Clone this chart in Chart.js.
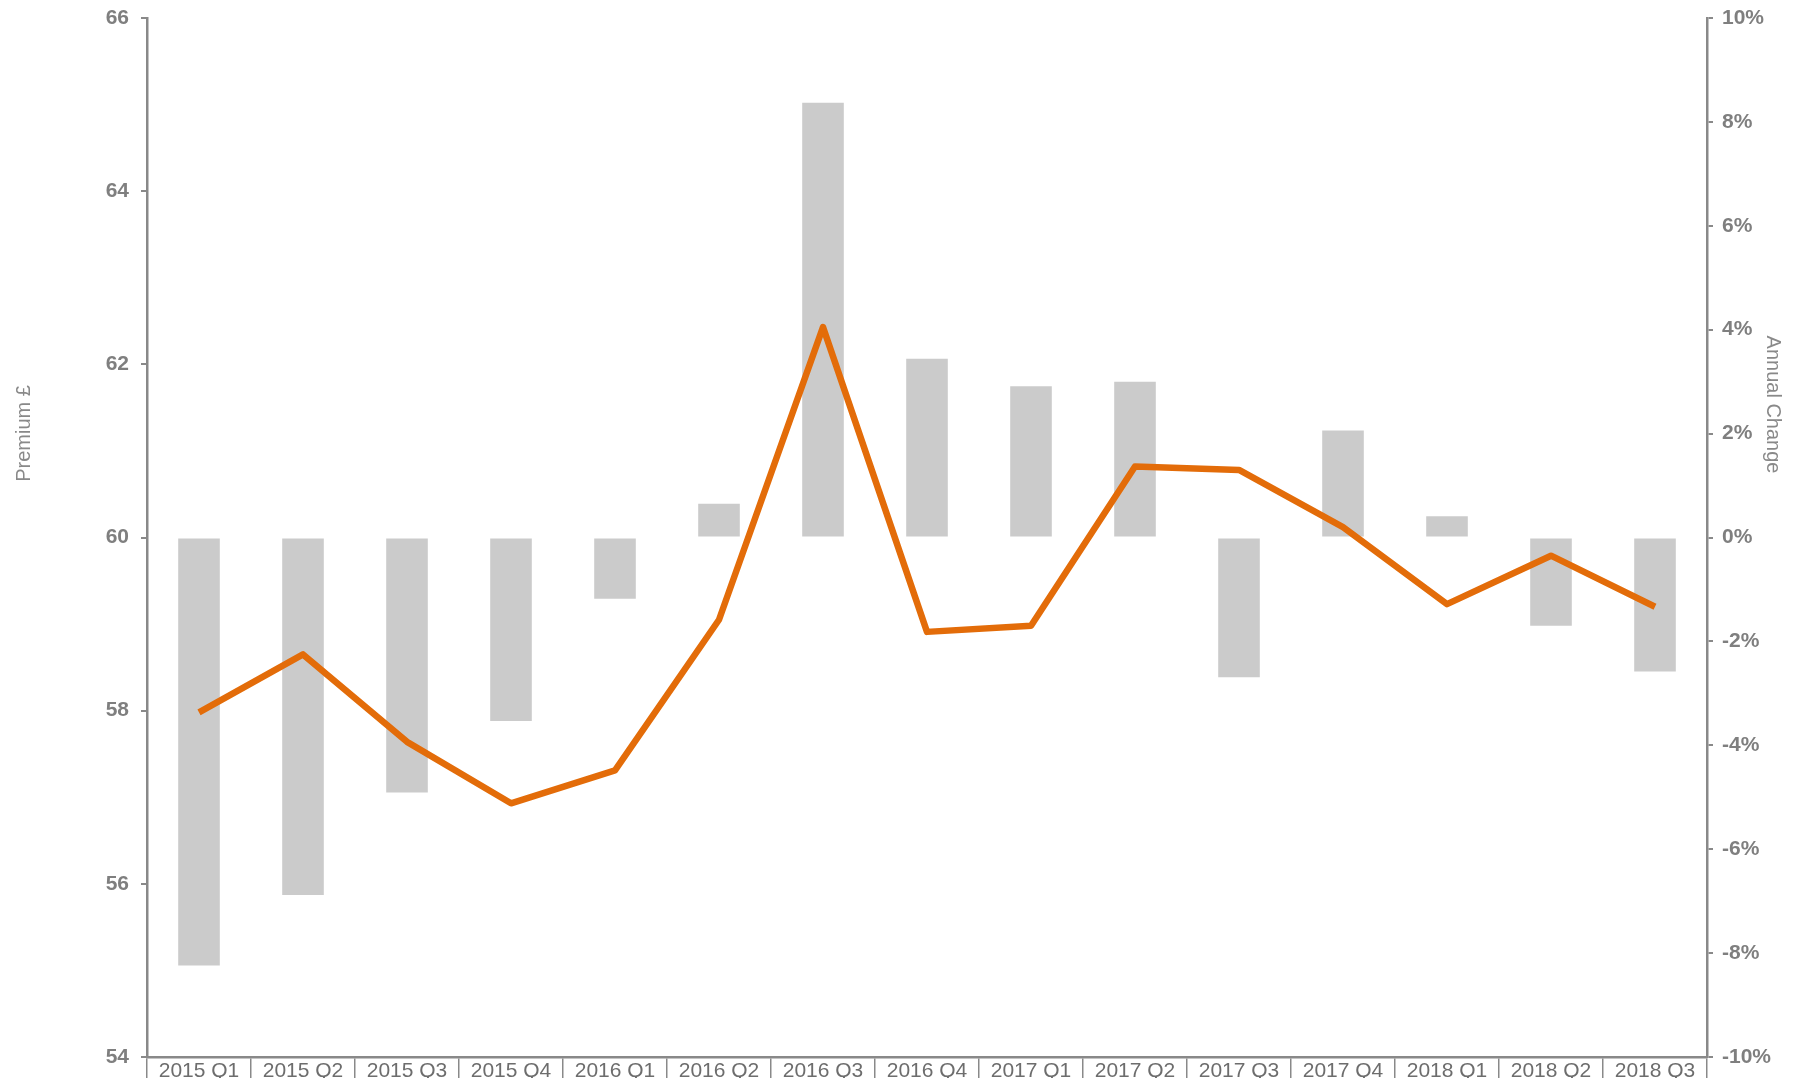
<!DOCTYPE html>
<html>
<head>
<meta charset="utf-8">
<script src="https://cdn.jsdelivr.net/npm/chart.js@4.4.1/dist/chart.umd.min.js"></script>
<style>
  html, body { margin: 0; padding: 0; background: #ffffff; overflow: hidden; }
  #wrap { position: absolute; left: 0; top: 0; width: 1800px; height: 1100px; }
</style>
</head>
<body>
<div id="wrap"><canvas id="c" width="1800" height="1100"></canvas></div>
<script>
const categories = ["2015 Q1","2015 Q2","2015 Q3","2015 Q4","2016 Q1","2016 Q2","2016 Q3","2016 Q4","2017 Q1","2017 Q2","2017 Q3","2017 Q4","2018 Q1","2018 Q2","2018 Q3"];
const premium = [57.98, 58.65, 57.64, 56.93, 57.31, 59.05, 62.43, 58.91, 58.98, 60.82, 60.78, 60.12, 59.23, 59.79, 59.20];
const annualChange = [-8.24, -6.88, -4.91, -3.53, -1.18, 0.65, 8.37, 3.44, 2.91, 3.00, -2.69, 2.06, 0.41, -1.70, -2.58];
const leftTitle = "Premium £";
const rightTitle = "Annual Change";

const axisGrey = '#898989';
const tickGrey = '#7f7f7f';
const fontFam = '"Liberation Sans", Arial, sans-serif';

const titlesPlugin = {
  id: 'axisTitles',
  afterDraw(chart) {
    const ctx = chart.ctx;
    const area = chart.chartArea;
    ctx.save();
    ctx.font = '20px ' + fontFam;
    ctx.fillStyle = axisGrey;
    ctx.textAlign = 'center';
    ctx.textBaseline = 'middle';
    const cy = (area.top + area.bottom) / 2;
    ctx.save();
    ctx.translate(24, cy - 104);
    ctx.rotate(-Math.PI / 2);
    ctx.fillText(leftTitle, 0, 0);
    ctx.restore();
    ctx.save();
    ctx.translate(chart.width - 27, cy - 133);
    ctx.rotate(Math.PI / 2);
    ctx.fillText(rightTitle, 0, 0);
    ctx.restore();
    ctx.restore();
  }
};

new Chart(document.getElementById('c'), {
  data: {
    labels: categories,
    datasets: [
      {
        type: 'line',
        label: leftTitle,
        data: premium,
        yAxisID: 'y',
        borderColor: '#e36c09',
        borderWidth: 6.5,
        pointRadius: 0,
        tension: 0,
        borderCapStyle: 'butt',
        borderJoinStyle: 'round',
        fill: false,
        order: 0
      },
      {
        type: 'bar',
        label: rightTitle,
        data: annualChange,
        yAxisID: 'y1',
        backgroundColor: '#cbcbcb',
        borderWidth: 0,
        barPercentage: 0.4,
        categoryPercentage: 1.0,
        order: 1
      }
    ]
  },
  options: {
    responsive: false,
    animation: false,
    devicePixelRatio: 1,
    layout: { padding: { top: 18, left: 0, right: 0, bottom: 0 } },
    plugins: { legend: { display: false }, tooltip: { enabled: false } },
    scales: {
      x: {
        type: 'category',
        offset: true,
        grid: { offset: true, drawOnChartArea: false, drawTicks: true, tickLength: 44, color: axisGrey, lineWidth: 1.5 },
        border: { display: true, color: axisGrey, width: 2.5 },
        ticks: {
          padding: -42,
          color: '#6d6d6d',
          font: { family: fontFam, size: 21 },
          maxRotation: 0, minRotation: 0, autoSkip: false
        },
        afterFit(scale) { scale.height = 43; scale.paddingLeft = 0; scale.paddingRight = 0; }
      },
      y: {
        position: 'left',
        min: 54, max: 66,
        ticks: {
          stepSize: 2, padding: 12, color: tickGrey,
          font: { family: fontFam, size: 21, weight: 'bold' }
        },
        grid: { drawOnChartArea: false, drawTicks: true, tickLength: 6, color: axisGrey, lineWidth: 2 },
        border: { display: true, color: axisGrey, width: 2.5 },
        afterFit(scale) { scale.width = 147; scale.paddingTop = 0; scale.paddingBottom = 0; }
      },
      y1: {
        position: 'right',
        min: -10, max: 10,
        ticks: {
          stepSize: 2, padding: 9, color: tickGrey,
          font: { family: fontFam, size: 21, weight: 'bold' },
          callback: (v) => v + '%'
        },
        grid: { drawOnChartArea: false, drawTicks: true, tickLength: 6, color: axisGrey, lineWidth: 2 },
        border: { display: true, color: axisGrey, width: 2.5 },
        afterFit(scale) { scale.width = 93; scale.paddingTop = 0; scale.paddingBottom = 0; }
      }
    }
  },
  plugins: [titlesPlugin]
});
</script>
</body>
</html>
